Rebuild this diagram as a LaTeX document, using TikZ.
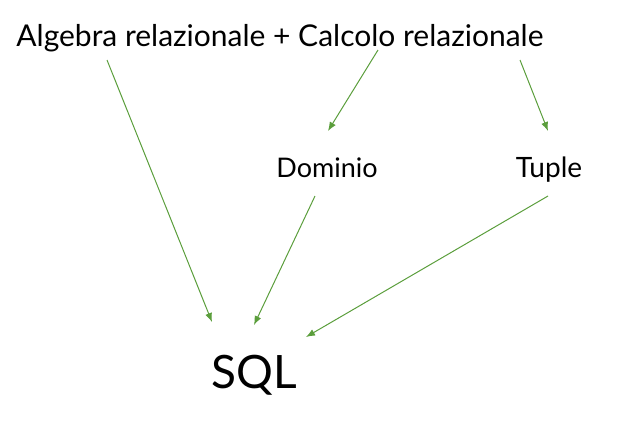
\documentclass[tikz,border=0pt]{standalone}
\usepackage{fontspec}
\setmainfont{Lato}
\usetikzlibrary{arrows.meta}
\definecolor{arrowgreen}{HTML}{5B9E3C}
\tikzset{
  lbl/.style = {inner sep=0pt, anchor=base, font=\fontsize{27}{30}\selectfont},
  link/.style = {-{Latex[length=9pt,width=7pt]}, arrowgreen, line width=1pt}
}
\begin{document}
\begin{tikzpicture}[x=1pt, y=-1pt]
\useasboundingbox (0,0) rectangle (623,432);
\node [lbl, font=\fontsize{30}{34}\selectfont] (top) at (280,46) {Algebra relazionale + Calcolo relazionale};
\node [lbl] (dom) at (327,177) {Dominio};
\node [lbl, font=\fontsize{28}{31}\selectfont] (tup) at (549,177) {Tuple};
\node [lbl, font=\fontsize{46}{50}\selectfont] (sql) at (254,388) {SQL};
% punti di partenza e di arrivo delle frecce
\coordinate (alg) at (107,60);
\coordinate (calc) at (378,50);
\coordinate (rel) at (520,60);
\coordinate (dom s) at (315,196);
\coordinate (tup s) at (548,196);
\coordinate (dom e) at (328,131);
\coordinate (tup e) at (548,131);
\coordinate (sql a) at (212,322);
\coordinate (sql b) at (254,325);
\coordinate (sql c) at (306,337);
\draw [link] (alg) -- (sql a);
\draw [link] (calc) -- (dom e);
\draw [link] (rel) -- (tup e);
\draw [link] (dom s) -- (sql b);
\draw [link] (tup s) -- (sql c);
\end{tikzpicture}
\end{document}
